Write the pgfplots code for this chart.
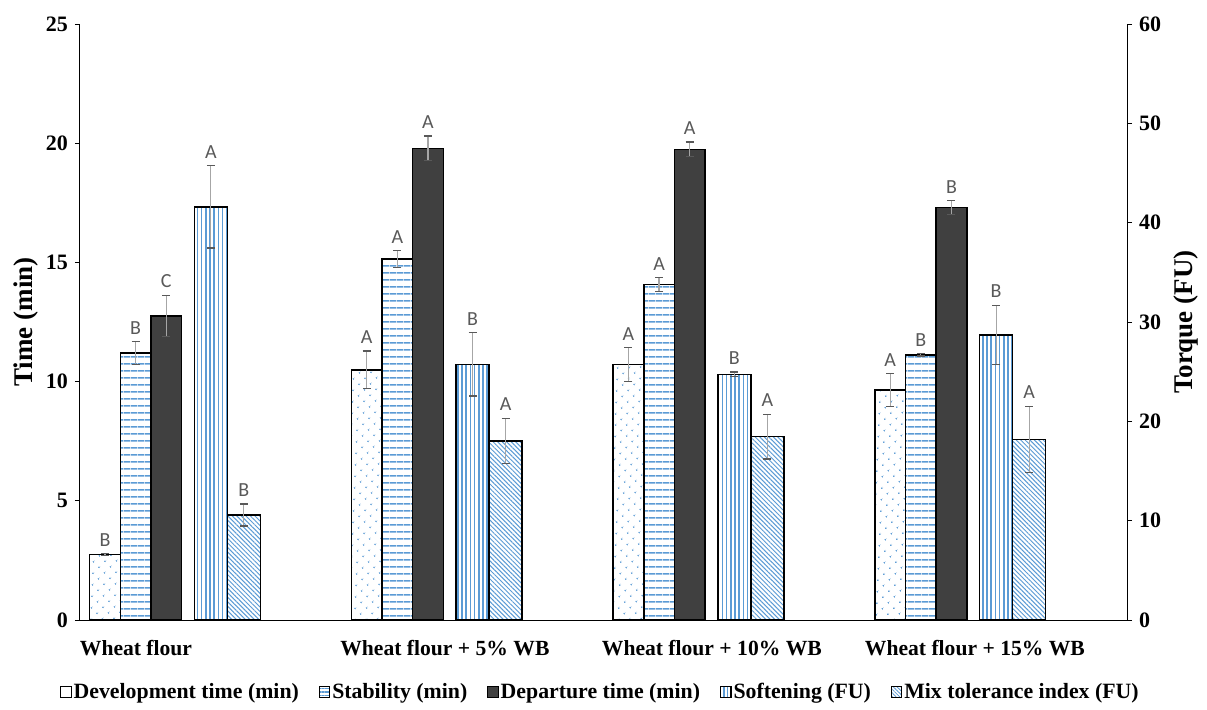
\documentclass[border=0pt]{standalone}
\usepackage{pgfplots}
\pgfplotsset{compat=1.18}
\usepackage{pgfplotstable}
\usetikzlibrary{patterns,patterns.meta}
\usepackage{fontspec}
\setmainfont{Liberation Serif}
\newfontfamily\carlito{Carlito}
\definecolor{pblue}{HTML}{5B9BD5}
\definecolor{depfill}{HTML}{404040}
\definecolor{lblgray}{HTML}{595959}
\definecolor{errgray}{HTML}{A6A6A6}

\pgfplotstableread{
x dev deverr devl stab staberr stabl dep deperr depl soft softerr softl mti mtierr mtil
0 2.75 0.04 B 11.20 0.48 B 12.76 0.86 C 41.60 4.15 A 10.57 1.10 B
1 10.49 0.79 A 15.14 0.36 A 19.78 0.52 A 25.74 3.19 B 18.02 2.30 A
2 10.72 0.70 A 14.08 0.29 A 19.74 0.31 A 24.73 0.24 B 18.46 2.25 A
3 9.65 0.69 A 11.12 0.05 B 17.30 0.29 B 28.69 2.99 B 18.19 3.33 A
}\data

\pgfplotsset{
  devstyle/.style={draw=black, line width=0.75pt, preaction={fill=white}, pattern={Dots[angle=45, distance=4pt, radius=0.5pt]}, pattern color=pblue},
  stabstyle/.style={draw=black, line width=0.75pt, preaction={fill=white}, pattern={Lines[angle=0, distance=3.35pt, line width=0.8pt]}, pattern color=pblue},
  depstyle/.style={draw=black, line width=0.75pt, fill=depfill},
  softstyle/.style={draw=black, line width=0.75pt, preaction={fill=white}, pattern={Lines[angle=90, distance=2.1pt, line width=0.85pt]}, pattern color=pblue},
  mtistyle/.style={draw=black, line width=0.75pt, preaction={fill=white}, pattern={Lines[angle=-45, distance=1.6pt, line width=0.5pt]}, pattern color=pblue},
  sqlegend/.style={legend image code/.code={\draw[##1, line width=0.5pt] (0pt,-2.6pt) rectangle (5.2pt,2.6pt);}},
  errs/.style={error bars/.cd, y dir=both, y explicit, error bar style={errgray, line width=0.6pt}, error mark options={lblgray, line width=0.6pt, mark size=2pt, rotate=90}},
  lbls/.style={draw=none, forget plot, nodes near coords, point meta=explicit symbolic,
    nodes near coords style={font=\carlito\fontsize{10}{12}\selectfont, text=lblgray, anchor=south, inner sep=0pt, yshift=3.5pt}},
  common/.style={at={(0,0)}, anchor=south west, scale only axis, width=523.5pt, height=298pt,
    xmin=-0.5, xmax=3.5, clip=false,
    tick align=outside, major tick length=2.5pt,
    axis line style={-, black, line width=0.5pt},
    /pgf/number format/assume math mode=true,
    tick label style={font=\bfseries\fontsize{11}{13}\selectfont}},
}

\begin{document}
\begin{tikzpicture}
\useasboundingbox (-40pt,-44.5pt) rectangle (563.5pt,310pt);
\begin{axis}[common,
  ymin=0, ymax=25, ytick={0,5,...,25},
  axis x line*=bottom, axis y line*=left,
  y tick style={black, line width=0.5pt},
  xtick={-0.286,0.894,1.914,2.919},
  xticklabels={Wheat flour, Wheat flour + 5\% WB, Wheat flour + 10\% WB, Wheat flour + 15\% WB},
  x tick style={draw=none},
  x tick label style={font=\bfseries\fontsize{10.8}{13}\selectfont, anchor=base, yshift=-15pt},
  ylabel={Time (min)},
  every axis y label/.style={at={(axis description cs:-0.052,0.5)}, anchor=center, rotate=90, font=\bfseries\fontsize{13.5}{16}\selectfont},
  legend columns=5,
  legend cell align=left,
  legend style={draw=none, fill=none, at={(0.4971,-0.1208)}, anchor=center,
    font=\bfseries\fontsize{10.9}{13}\selectfont,
    /tikz/every even column/.append style={column sep=9pt},
    nodes={inner xsep=1pt}},
]
\addplot[ybar, bar width=0.117, bar shift=0pt, devstyle, forget plot, errs]
  table[x expr=\thisrow{x}-0.4046, y=dev, y error=deverr]{\data};
\addplot[ybar, bar width=0.117, bar shift=0pt, stabstyle, forget plot, errs]
  table[x expr=\thisrow{x}-0.2876, y=stab, y error=staberr]{\data};
\addplot[ybar, bar width=0.117, bar shift=0pt, depstyle, forget plot, errs]
  table[x expr=\thisrow{x}-0.1707, y=dep, y error=deperr]{\data};
\addplot[lbls] table[x expr=\thisrow{x}-0.4046, y expr=\thisrow{dev}+\thisrow{deverr}, meta=devl]{\data};
\addplot[lbls] table[x expr=\thisrow{x}-0.2876, y expr=\thisrow{stab}+\thisrow{staberr}, meta=stabl]{\data};
\addplot[lbls] table[x expr=\thisrow{x}-0.1707, y expr=\thisrow{dep}+\thisrow{deperr}, meta=depl]{\data};
\addlegendimage{sqlegend, draw=black, fill=white}
\addlegendentry{Development time (min)}
\addlegendimage{sqlegend, draw=black, preaction={fill=white}, pattern={Lines[angle=0, distance=1.7pt, line width=0.7pt]}, pattern color=pblue}
\addlegendentry{Stability (min)}
\addlegendimage{sqlegend, draw=black, fill=depfill}
\addlegendentry{Departure time (min)}
\addlegendimage{sqlegend, draw=black, preaction={fill=white}, pattern={Lines[angle=90, distance=1.7pt, line width=0.7pt]}, pattern color=pblue}
\addlegendentry{Softening (FU)}
\addlegendimage{sqlegend, draw=black, preaction={fill=white}, pattern={Lines[angle=-45, distance=1.3pt, line width=0.4pt]}, pattern color=pblue}
\addlegendentry{Mix tolerance index (FU)}
\end{axis}
\begin{axis}[common,
  ymin=0, ymax=60, ytick={0,10,...,60},
  axis y line*=right, axis x line=none,
  y tick style={black, line width=0.5pt},
  ylabel={Torque (FU)},
  every axis y label/.style={at={(axis description cs:1.0564,0.5)}, anchor=center, rotate=90, font=\bfseries\fontsize{13.5}{16}\selectfont},
]
\addplot[ybar, bar width=0.126, bar shift=0pt, softstyle, forget plot, errs]
  table[x expr=\thisrow{x}+0.0, y=soft, y error=softerr]{\data};
\addplot[ybar, bar width=0.126, bar shift=0pt, mtistyle, forget plot, errs]
  table[x expr=\thisrow{x}+0.126, y=mti, y error=mtierr]{\data};
\addplot[lbls] table[x expr=\thisrow{x}+0.0, y expr=\thisrow{soft}+\thisrow{softerr}, meta=softl]{\data};
\addplot[lbls] table[x expr=\thisrow{x}+0.126, y expr=\thisrow{mti}+\thisrow{mtierr}, meta=mtil]{\data};
\end{axis}
\end{tikzpicture}
\end{document}
